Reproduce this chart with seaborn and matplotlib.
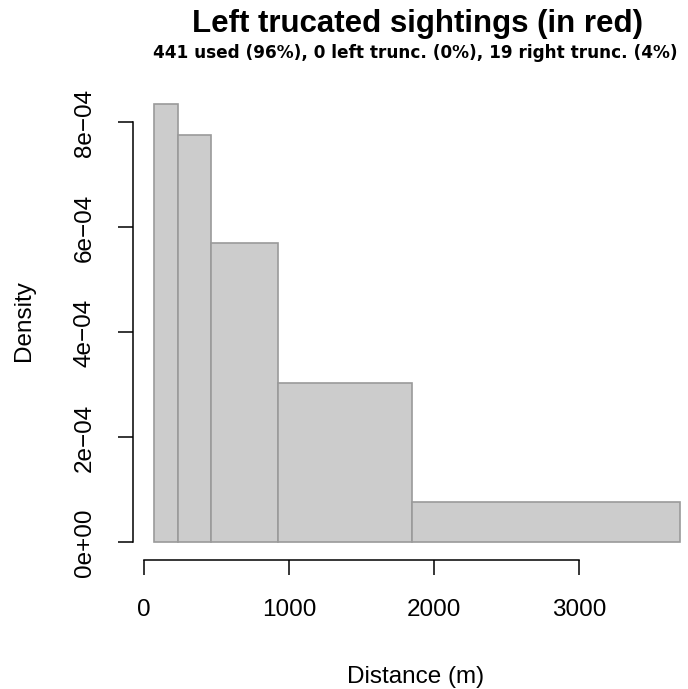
import numpy as np
import pandas as pd
import matplotlib
matplotlib.use("Agg")
import matplotlib.pyplot as plt
import seaborn as sns

# ---- data ----
bin_edges = [68, 231.25, 462.5, 925, 1850, 3700]          # distance breaks (m)
densities = [8.36e-4, 7.77e-4, 5.70e-4, 3.04e-4, 7.7e-5]  # bar heights
x_ticks = [0, 1000, 2000, 3000]
x_tick_labels = ["0", "1000", "2000", "3000"]
y_ticks = [0, 2e-4, 4e-4, 6e-4, 8e-4]
y_tick_labels = ["0e+00", "2e\u221204", "4e\u221204", "6e\u221204", "8e\u221204"]
title = "Left trucated sightings (in red)"
subtitle = "441 used (96%), 0 left trunc. (0%), 19 right trunc. (4%)"
x_label = "Distance (m)"
y_label = "Density"

sns.set_style("white")
plt.rcParams["font.family"] = ["Liberation Sans", "DejaVu Sans"]
plt.rcParams["text.color"] = "black"

W, H = 688, 689
fig = plt.figure(figsize=(W / 100, H / 100), dpi=100)

# plot region in pixels (R style region)
px_left, px_right, px_top, px_bottom = 133, 701.5, 86, 560
ax = fig.add_axes([px_left / W, 1 - px_bottom / H,
                   (px_right - px_left) / W, (px_bottom - px_top) / H])

mids = [(a + b) / 2 for a, b in zip(bin_edges[:-1], bin_edges[1:])]
df = pd.DataFrame({"distance": mids, "density": densities})
sns.histplot(data=df, x="distance", weights="density", bins=bin_edges,
             stat="count", color="#CCCCCC", edgecolor="#9A9A9A",
             linewidth=1.2, alpha=1, ax=ax)

xr = bin_edges[-1] - bin_edges[0]
ax.set_xlim(bin_edges[0] - 0.04 * xr, bin_edges[-1] + 0.04 * xr)
ymax = max(densities)
ax.set_ylim(-0.04 * ymax, ymax * 1.04)

for s in ["top", "right"]:
    ax.spines[s].set_visible(False)
for s in ["left", "bottom"]:
    ax.spines[s].set_color("black")
    ax.spines[s].set_linewidth(1.1)
ax.spines["bottom"].set_bounds(x_ticks[0], x_ticks[-1])
ax.spines["left"].set_bounds(y_ticks[0], y_ticks[-1])

ax.set_xticks(x_ticks)
ax.set_xticklabels(x_tick_labels)
ax.set_yticks(y_ticks)
ax.set_yticklabels(y_tick_labels, rotation=90, va="center")
ax.tick_params(axis="both", which="major", bottom=True, left=True,
               direction="out", length=10.8, width=1.1,
               color="black", labelsize=17.5, labelcolor="black")
ax.tick_params(axis="x", pad=17)
ax.tick_params(axis="y", pad=16)
ax.set_xlabel("")
ax.set_ylabel("")
ax.grid(False)

fig.text(416 / W, 1 - 677 / H, x_label, ha="center", va="center",
         fontsize=17.5, color="black")
fig.text(24 / W, 1 - 321 / H, y_label, ha="center", va="center",
         rotation=90, fontsize=17.5, color="black")
fig.text(417 / W, 1 - 31.7 / H, title, ha="center", va="baseline",
         fontsize=22.5, fontweight="bold", color="black")
fig.text(415 / W, 1 - 58.3 / H, subtitle, ha="center", va="baseline",
         fontsize=12.2, fontweight="bold", color="black",
         family=["DejaVu Sans"])

fig.savefig("out.png", dpi=100)
